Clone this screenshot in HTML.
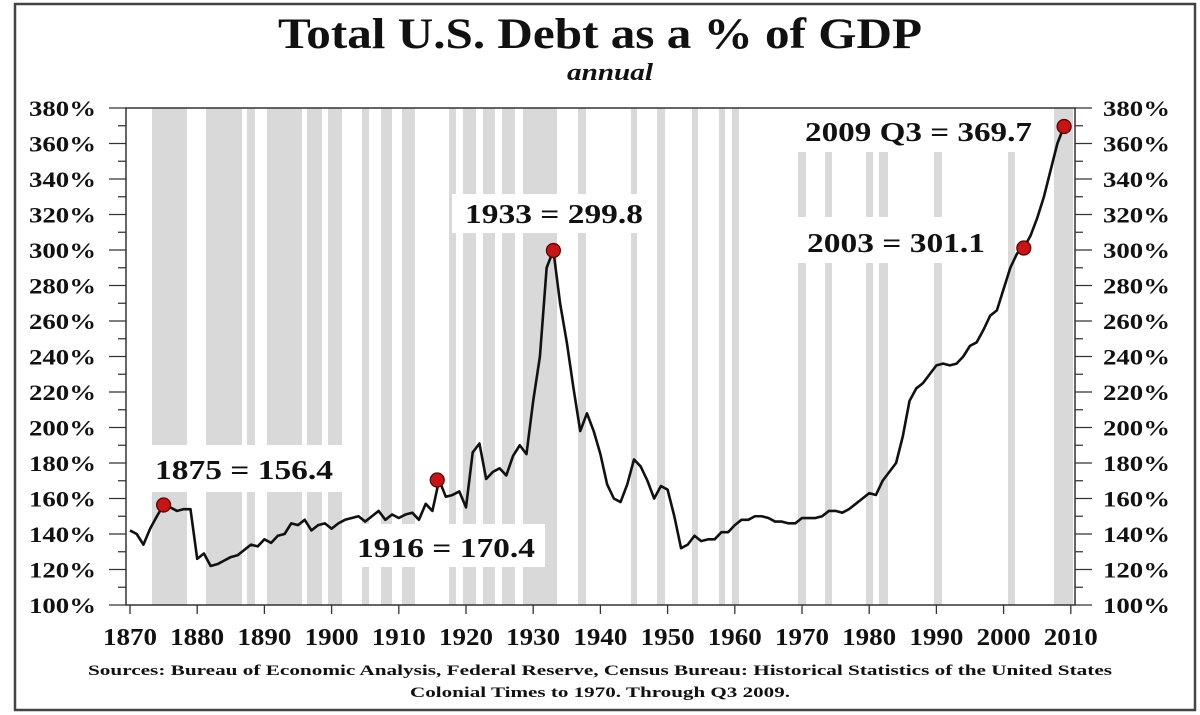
<!DOCTYPE html>
<html><head><meta charset="utf-8"><style>
html,body{margin:0;padding:0;background:#fff;}
svg{display:block;}
text{font-family:"Liberation Serif",serif;font-weight:bold;fill:#111;}
</style></head><body>
<svg width="1200" height="715" viewBox="0 0 1200 715" xmlns="http://www.w3.org/2000/svg">
<rect x="0" y="0" width="1200" height="715" fill="#fff"/>
<rect x="15" y="4" width="1180" height="706" fill="none" stroke="#444" stroke-width="2.5"/>
<text x="278" y="48" font-size="43" textLength="644" lengthAdjust="spacingAndGlyphs">Total U.S. Debt as a % of GDP</text>
<text x="567" y="80" font-size="24" font-style="italic" textLength="86" lengthAdjust="spacingAndGlyphs">annual</text>
<g fill="#d9d9d9">
<rect x="152" y="108" width="35" height="497"/>
<rect x="206" y="108" width="36" height="497"/>
<rect x="247" y="108" width="8" height="497"/>
<rect x="267" y="108" width="35" height="497"/>
<rect x="307" y="108" width="15" height="497"/>
<rect x="328" y="108" width="14" height="497"/>
<rect x="362" y="108" width="7" height="497"/>
<rect x="381" y="108" width="11" height="497"/>
<rect x="402" y="108" width="13" height="497"/>
<rect x="449" y="108" width="7" height="497"/>
<rect x="463" y="108" width="13" height="497"/>
<rect x="483" y="108" width="12" height="497"/>
<rect x="502" y="108" width="13" height="497"/>
<rect x="523" y="108" width="34" height="497"/>
<rect x="578" y="108" width="8" height="497"/>
<rect x="631" y="108" width="6" height="497"/>
<rect x="657" y="108" width="8" height="497"/>
<rect x="692" y="108" width="6" height="497"/>
<rect x="719" y="108" width="6" height="497"/>
<rect x="732" y="108" width="7" height="497"/>
<rect x="798" y="152" width="8" height="453"/>
<rect x="825" y="152" width="7" height="453"/>
<rect x="866" y="152" width="7" height="453"/>
<rect x="879" y="152" width="9" height="453"/>
<rect x="934" y="152" width="8" height="453"/>
<rect x="1008" y="152" width="7" height="453"/>
<rect x="1054" y="108" width="19" height="497"/>
</g>
<g fill="#fff">
<rect x="148" y="445" width="200" height="47"/>
<rect x="352" y="524" width="193" height="43"/>
<rect x="452" y="194" width="198" height="39"/>
<rect x="795" y="217" width="205" height="46"/>
</g>
<g stroke="#333" stroke-width="1.5" fill="none">
<rect x="126" y="108" width="949" height="497"/>
</g>
<g stroke="#333" stroke-width="1.3">
<path d="M109 108H126M118 125.75H126M109 143.5H126M118 161.25H126M109 179H126M118 196.75H126M109 214.5H126M118 232.25H126M109 250H126M118 267.75H126M109 285.5H126M118 303.25H126M109 321H126M118 338.75H126M109 356.5H126M118 374.25H126M109 392H126M118 409.75H126M109 427.5H126M118 445.25H126M109 463H126M118 480.75H126M109 498.5H126M118 516.25H126M109 534H126M118 551.75H126M109 569.5H126M118 587.25H126M109 605H126"/>
<path d="M1075 108H1092M1075 125.75H1083M1075 143.5H1092M1075 161.25H1083M1075 179H1092M1075 196.75H1083M1075 214.5H1092M1075 232.25H1083M1075 250H1092M1075 267.75H1083M1075 285.5H1092M1075 303.25H1083M1075 321H1092M1075 338.75H1083M1075 356.5H1092M1075 374.25H1083M1075 392H1092M1075 409.75H1083M1075 427.5H1092M1075 445.25H1083M1075 463H1092M1075 480.75H1083M1075 498.5H1092M1075 516.25H1083M1075 534H1092M1075 551.75H1083M1075 569.5H1092M1075 587.25H1083M1075 605H1092"/>
<path d="M130 605V614M197.2 605V614M264.4 605V614M331.6 605V614M398.8 605V614M466 605V614M533.2 605V614M600.4 605V614M667.6 605V614M734.8 605V614M802 605V614M869.2 605V614M936.4 605V614M1003.6 605V614M1070.8 605V614"/>
</g>
<g font-size="22">
<text x="29" y="116" textLength="67" lengthAdjust="spacingAndGlyphs">380%</text>
<text x="29" y="151.5" textLength="67" lengthAdjust="spacingAndGlyphs">360%</text>
<text x="29" y="187" textLength="67" lengthAdjust="spacingAndGlyphs">340%</text>
<text x="29" y="222.5" textLength="67" lengthAdjust="spacingAndGlyphs">320%</text>
<text x="29" y="258" textLength="67" lengthAdjust="spacingAndGlyphs">300%</text>
<text x="29" y="293.5" textLength="67" lengthAdjust="spacingAndGlyphs">280%</text>
<text x="29" y="329" textLength="67" lengthAdjust="spacingAndGlyphs">260%</text>
<text x="29" y="364.5" textLength="67" lengthAdjust="spacingAndGlyphs">240%</text>
<text x="29" y="400" textLength="67" lengthAdjust="spacingAndGlyphs">220%</text>
<text x="29" y="435.5" textLength="67" lengthAdjust="spacingAndGlyphs">200%</text>
<text x="29" y="471" textLength="67" lengthAdjust="spacingAndGlyphs">180%</text>
<text x="29" y="506.5" textLength="67" lengthAdjust="spacingAndGlyphs">160%</text>
<text x="29" y="542" textLength="67" lengthAdjust="spacingAndGlyphs">140%</text>
<text x="29" y="577.5" textLength="67" lengthAdjust="spacingAndGlyphs">120%</text>
<text x="29" y="613" textLength="67" lengthAdjust="spacingAndGlyphs">100%</text>
</g>
<g font-size="22">
<text x="1103" y="116" textLength="67" lengthAdjust="spacingAndGlyphs">380%</text>
<text x="1103" y="151.5" textLength="67" lengthAdjust="spacingAndGlyphs">360%</text>
<text x="1103" y="187" textLength="67" lengthAdjust="spacingAndGlyphs">340%</text>
<text x="1103" y="222.5" textLength="67" lengthAdjust="spacingAndGlyphs">320%</text>
<text x="1103" y="258" textLength="67" lengthAdjust="spacingAndGlyphs">300%</text>
<text x="1103" y="293.5" textLength="67" lengthAdjust="spacingAndGlyphs">280%</text>
<text x="1103" y="329" textLength="67" lengthAdjust="spacingAndGlyphs">260%</text>
<text x="1103" y="364.5" textLength="67" lengthAdjust="spacingAndGlyphs">240%</text>
<text x="1103" y="400" textLength="67" lengthAdjust="spacingAndGlyphs">220%</text>
<text x="1103" y="435.5" textLength="67" lengthAdjust="spacingAndGlyphs">200%</text>
<text x="1103" y="471" textLength="67" lengthAdjust="spacingAndGlyphs">180%</text>
<text x="1103" y="506.5" textLength="67" lengthAdjust="spacingAndGlyphs">160%</text>
<text x="1103" y="542" textLength="67" lengthAdjust="spacingAndGlyphs">140%</text>
<text x="1103" y="577.5" textLength="67" lengthAdjust="spacingAndGlyphs">120%</text>
<text x="1103" y="613" textLength="67" lengthAdjust="spacingAndGlyphs">100%</text>
</g>
<g font-size="24">
<text x="103" y="645" textLength="54" lengthAdjust="spacingAndGlyphs">1870</text>
<text x="170.2" y="645" textLength="54" lengthAdjust="spacingAndGlyphs">1880</text>
<text x="237.4" y="645" textLength="54" lengthAdjust="spacingAndGlyphs">1890</text>
<text x="304.6" y="645" textLength="54" lengthAdjust="spacingAndGlyphs">1900</text>
<text x="371.8" y="645" textLength="54" lengthAdjust="spacingAndGlyphs">1910</text>
<text x="439" y="645" textLength="54" lengthAdjust="spacingAndGlyphs">1920</text>
<text x="506.2" y="645" textLength="54" lengthAdjust="spacingAndGlyphs">1930</text>
<text x="573.4" y="645" textLength="54" lengthAdjust="spacingAndGlyphs">1940</text>
<text x="640.6" y="645" textLength="54" lengthAdjust="spacingAndGlyphs">1950</text>
<text x="707.8" y="645" textLength="54" lengthAdjust="spacingAndGlyphs">1960</text>
<text x="775" y="645" textLength="54" lengthAdjust="spacingAndGlyphs">1970</text>
<text x="842.2" y="645" textLength="54" lengthAdjust="spacingAndGlyphs">1980</text>
<text x="909.4" y="645" textLength="54" lengthAdjust="spacingAndGlyphs">1990</text>
<text x="976.6" y="645" textLength="54" lengthAdjust="spacingAndGlyphs">2000</text>
<text x="1043.8" y="645" textLength="54" lengthAdjust="spacingAndGlyphs">2010</text>
</g>
<polyline fill="none" stroke="#111" stroke-width="2.6" vector-effect="non-scaling-stroke" stroke-linejoin="round" transform="matrix(6.72 0 0 -1.775 130 782.5)" points="0,142 1,140 2,134 3,143 4,150 5,156.4 6,155 7,153 8,154 9,154 10,126 11,129 12,122 13,123 14,125 15,127 16,128 17,131 18,134 19,133 20,137 21,135 22,139 23,140 24,146 25,145 26,148 27,142 28,145 29,146 30,143 31,146 32,148 33,149 34,150 35,147 36,150 37,153 38,148 39,151 40,149 41,151 42,152 43,148 44,157 45,153 46,170.4 47,161 48,162 49,164 50,155 51,186 52,191 53,171 54,175 55,177 56,173 57,184 58,190 59,185 60,215 61,240 62,290 63,299.8 64,270 65,248 66,222 67,198 68,208 69,198 70,185 71,168 72,160 73,158 74,168 75,182 76,178 77,170 78,160 79,167 80,165 81,150 82,132 83,134 84,139 85,136 86,137 87,137 88,141 89,141 90,145 91,148 92,148 93,150 94,150 95,149 96,147 97,147 98,146 99,146 100,149 101,149 102,149 103,150 104,153 105,153 106,152 107,154 108,157 109,160 110,163 111,162 112,170 113,175 114,180 115,195 116,215 117,222 118,225 119,230 120,235 121,236 122,235 123,236 124,240 125,246 126,248 127,255 128,263 129,266 130,278 131,290 132,298 133,301.1 134,308 135,318 136,330 137,345 138,360 139,369.7"/>
<g fill="#c81414" stroke="#500" stroke-width="1.2">
<circle cx="163.6" cy="505" r="7"/>
<circle cx="437.2" cy="480" r="7"/>
<circle cx="553.4" cy="250.5" r="7"/>
<circle cx="1023.8" cy="248" r="7"/>
<circle cx="1064.1" cy="126.5" r="7"/>
</g>
<g font-size="27">
<text x="155" y="479" textLength="178" lengthAdjust="spacingAndGlyphs">1875 = 156.4</text>
<text x="357" y="557" textLength="178" lengthAdjust="spacingAndGlyphs">1916 = 170.4</text>
<text x="465" y="223" textLength="178" lengthAdjust="spacingAndGlyphs">1933 = 299.8</text>
<text x="807" y="252" textLength="178" lengthAdjust="spacingAndGlyphs">2003 = 301.1</text>
<text x="805" y="141" textLength="227" lengthAdjust="spacingAndGlyphs">2009 Q3 = 369.7</text>
</g>
<g font-size="15">
<text x="88" y="675" textLength="1024" lengthAdjust="spacingAndGlyphs">Sources: Bureau of Economic Analysis, Federal Reserve, Census Bureau: Historical Statistics of the United States</text>
<text x="410" y="697" textLength="380" lengthAdjust="spacingAndGlyphs">Colonial Times to 1970.   Through Q3 2009.</text>
</g>
</svg>
</body></html>
